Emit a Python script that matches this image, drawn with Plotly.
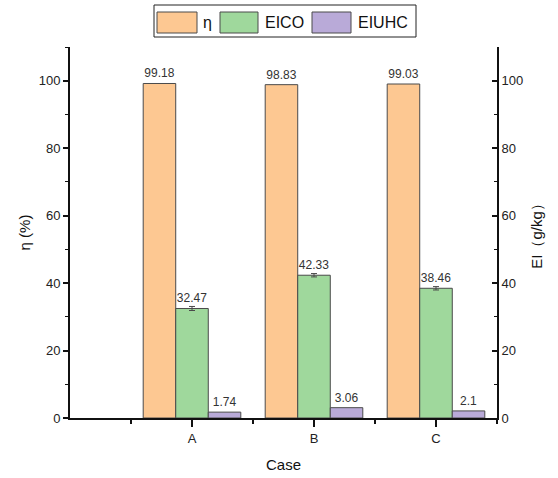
import plotly.graph_objects as go

categories = ["A", "B", "C"]
cat_pos = [0, 1, 2]
eta = [99.18, 98.83, 99.03]
eico = [32.47, 42.33, 38.46]
eico_err = [0.6, 0.5, 0.5]
eiuhc = [1.74, 3.06, 2.1]
eta_text = ["99.18", "98.83", "99.03"]
eico_text = ["32.47", "42.33", "38.46"]
eiuhc_text = ["1.74", "3.06", "2.1"]
series_names = ["η", "EICO", "EIUHC"]
colors = ["#FDC892", "#9FD89C", "#B9AAD8"]

W, H = 558, 478
L, R, T, B = 70, 61, 47, 60
pw, ph = W - L - R, H - T - B

outline = dict(color="#4a4a4a", width=1)
bw = 0.8 / 3
font_txt = dict(family="Liberation Sans, Arial, sans-serif", size=12, color="#333333")

fig = go.Figure()
fig.add_trace(go.Bar(x=cat_pos, y=eta, name=series_names[0], width=bw, offset=-0.4,
                     marker=dict(color=colors[0], line=outline),
                     text=eta_text, textposition="outside", textfont=font_txt,
                     cliponaxis=False, constraintext="none", yaxis="y"))
fig.add_trace(go.Bar(x=cat_pos, y=eico, name=series_names[1], width=bw, offset=-0.4 + bw,
                     marker=dict(color=colors[1], line=outline),
                     error_y=dict(type="data", array=eico_err, color="#4a4a4a", thickness=1, width=3),
                     text=eico_text, textposition="outside", textfont=font_txt,
                     cliponaxis=False, constraintext="none", yaxis="y2"))
fig.add_trace(go.Bar(x=cat_pos, y=eiuhc, name=series_names[2], width=bw, offset=-0.4 + 2 * bw,
                     marker=dict(color=colors[2], line=outline),
                     text=eiuhc_text, textposition="outside", textfont=font_txt,
                     cliponaxis=False, constraintext="none", yaxis="y2"))

tickfont = dict(family="Liberation Sans, Arial, sans-serif", size=13, color="#222222")
titlefont = dict(family="Liberation Sans, Arial, sans-serif", size=15, color="#111111")

fig.update_layout(
    width=W, height=H,
    margin=dict(l=L, r=R, t=T, b=B, pad=0, autoexpand=False),
    paper_bgcolor="white", plot_bgcolor="white",
    showlegend=False,
    barmode="overlay",
    xaxis=dict(range=[-1.0, 2.5], tickmode="array", tickvals=cat_pos, ticktext=categories,
               automargin=False,
               ticks="outside", ticklen=7, tickwidth=1.5, tickcolor="#111",
               minor=dict(tickvals=[-0.5, 0.5, 1.5, 2.5], ticks="outside", ticklen=4,
                          tickcolor="#111", tickwidth=1.5),
               showline=True, linecolor="#111", linewidth=2, showgrid=False, zeroline=False,
               tickfont=tickfont, title=dict(text="Case", font=titlefont, standoff=15)),
    yaxis=dict(range=[0, 110], tickvals=[0, 20, 40, 60, 80, 100], automargin=False,
               ticks="outside", ticklen=5, tickwidth=1.5, tickcolor="#111",
               minor=dict(dtick=10, tick0=0, ticks="outside", ticklen=3, tickcolor="#111", tickwidth=1),
               showline=True, linecolor="#111", linewidth=2, showgrid=False, zeroline=False,
               tickfont=tickfont, title=dict(text="η (%)", font=titlefont, standoff=4)),
    yaxis2=dict(range=[0, 110], tickvals=[0, 20, 40, 60, 80, 100], overlaying="y", side="right",
                automargin=False,
                ticks="inside", ticklen=5, tickwidth=1.5, tickcolor="#111",
                minor=dict(dtick=10, tick0=0, ticks="inside", ticklen=3, tickcolor="#111", tickwidth=1),
                showline=True, linecolor="#111", linewidth=2, showgrid=False, zeroline=False,
                tickfont=tickfont, title=dict(text="EI（g/kg）", font=titlefont, standoff=9)),
)

# custom legend (box with wide swatches), pixel positions converted to paper coords
def px(x):
    return (x - L) / pw

def py(y):
    return (H - B - y) / ph

shapes = [dict(type="rect", xref="paper", yref="paper", x0=px(154), x1=px(416), y0=py(37), y1=py(5),
               line=dict(color="#222", width=1), fillcolor="white", layer="above")]
swatches = [(157, 197), (220, 258), (312, 351)]
text_x = [201, 263, 356]
annotations = []
for (sx0, sx1), tx, c, n in zip(swatches, text_x, colors, series_names):
    shapes.append(dict(type="rect", xref="paper", yref="paper", x0=px(sx0), x1=px(sx1),
                       y0=py(33), y1=py(12), line=dict(color="#4a4a4a", width=1), fillcolor=c,
                       layer="above"))
    annotations.append(dict(text=n, xref="paper", yref="paper", x=px(tx), y=py(22.5),
                            xanchor="left", yanchor="middle", showarrow=False,
                            font=dict(family="Liberation Sans, Arial, sans-serif", size=16, color="#111")))
fig.update_layout(shapes=shapes, annotations=annotations)

fig.write_html("out.html")
